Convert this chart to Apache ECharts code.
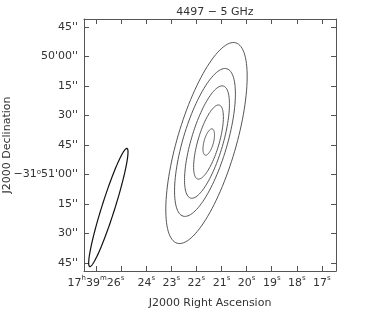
<!DOCTYPE html>
<html>
<head>
<meta charset="utf-8">
<script src="https://cdn.jsdelivr.net/npm/echarts@6/dist/echarts.min.js"></script>
<style>
html,body{margin:0;padding:0;background:#fff;}
#chart{width:382px;height:315px;}
</style>
</head>
<body>
<div id="chart"></div>
<script>
// RA in seconds of 17h39m, Dec as arcsec offset from -31°51'00''
const raTicks = [17, 18, 19, 20, 21, 22, 23, 24, 25, 26];
const raLabelValues = [17, 18, 19, 20, 21, 22, 23, 24, 26];
const decTicks = [-45, -30, -15, 0, 15, 30, 45, 60, 75];
const decTickLabels = ["45''", "30''", "15''", "\u221231{s|o}51'00''", "45''", "30''", "15''", "50'00''", "45''"];

// Source contours (ellipses): centre RA (s), centre Dec offset ("), semi-major ("), semi-minor ("), PA (deg)
const contourRA = [21.60, 21.66, 21.58, 21.52, 21.51];
const contourDec = [16.0, 16.3, 16.5, 16.5, 16.5];
const contourMajor = [53.1, 39.1, 29.7, 19.6, 6.9];
const contourMinor = [14.9, 11.2, 8.1, 5.4, 2.4];
const contourPA = [-16.3, -16.5, -16.3, -16.3, -15.0];

// Beam
const beamRA = [25.51];
const beamDec = [-16.8];
const beamMajor = [31.5];
const beamMinor = [3.3];
const beamPA = [-17.5];

const DEC0 = -31.85;
const arcsecPerSec = 15 * Math.cos(DEC0 * Math.PI / 180);

function ellipseItem(params, api) {
  const c = api.coord([api.value(0), api.value(1)]);
  const sz = api.size([1, 1]);
  const pxPerArcX = Math.abs(sz[0]) / arcsecPerSec;
  const pxPerArcY = Math.abs(sz[1]);
  const a = api.value(2), b = api.value(3), pa = api.value(4) * Math.PI / 180;
  const pts = [];
  const N = 120;
  for (let i = 0; i < N; i++) {
    const t = 2 * Math.PI * i / N;
    const north = a * Math.cos(t) * Math.cos(pa) - b * Math.sin(t) * Math.sin(pa);
    const east = a * Math.cos(t) * Math.sin(pa) + b * Math.sin(t) * Math.cos(pa);
    pts.push([c[0] - east * pxPerArcX, c[1] - north * pxPerArcY]);
  }
  return {
    type: 'polygon',
    shape: { points: pts },
    style: { fill: 'none', stroke: params.seriesIndex === 0 ? '#555' : '#111', lineWidth: params.seriesIndex === 0 ? 1 : 1.2 }
  };
}

const contourData = contourRA.map((r, i) => [r, contourDec[i], contourMajor[i], contourMinor[i], contourPA[i]]);
const beamData = beamRA.map((r, i) => [r, beamDec[i], beamMajor[i], beamMinor[i], beamPA[i]]);

const FONT = 'DejaVu Sans';
const TXT = '#333';
const LINE = '#555';
const xMin = 16.44, xMax = 26.48, yMin = -49.1, yMax = 79.1;

const sup = { fontSize: 7, lineHeight: 9, verticalAlign: 'top', fontFamily: FONT, color: TXT };
const nrm = { fontSize: 11, lineHeight: 14, verticalAlign: 'bottom', fontFamily: FONT, color: TXT };

function raFmt(v) {
  const n = Math.round(v);
  if (n === 26) return '{n|17}{s|h}{n|39}{s|m}{n|26}{s|s}';
  return '{n|' + n + '}{s|s}';
}
function decFmt(v) {
  const i = decTicks.indexOf(Math.round(v));
  return i >= 0 ? decTickLabels[i] : '';
}

const axisLineStyle = { show: true, onZero: false, lineStyle: { color: LINE, width: 1 } };

const chart = echarts.init(document.getElementById('chart'), null, { renderer: 'canvas' });
chart.setOption({
  animation: false,
  backgroundColor: '#fff',
  title: {
    text: '4497 \u2212 5 GHz',
    left: 210, top: 2, textAlign: 'center',
    textStyle: { fontFamily: FONT, fontSize: 11, fontWeight: 'normal', color: TXT }
  },
  grid: { left: 84, right: 46, top: 19, bottom: 44, outerBoundsMode: 'none' },
  xAxis: [
    {
      type: 'value', min: xMin, max: xMax, inverse: true, position: 'bottom',
      name: 'J2000 Right Ascension', nameLocation: 'middle', nameGap: 27,
      nameMoveOverlap: false,
      nameTextStyle: { fontFamily: FONT, fontSize: 11, color: TXT },
      axisLine: axisLineStyle,
      axisTick: { show: true, inside: true, length: 5, customValues: raTicks, lineStyle: { color: LINE } },
      axisLabel: { customValues: raLabelValues, margin: 4, formatter: raFmt, rich: { n: nrm, s: sup } },
      splitLine: { show: false }
    },
    {
      type: 'value', min: xMin, max: xMax, inverse: true, position: 'top',
      axisLine: axisLineStyle,
      axisTick: { show: true, inside: true, length: 5, customValues: raTicks, lineStyle: { color: LINE } },
      axisLabel: { show: false },
      splitLine: { show: false }
    }
  ],
  yAxis: [
    {
      type: 'value', min: yMin, max: yMax, position: 'left',
      name: 'J2000 Declination', nameLocation: 'middle', nameGap: 71, nameRotate: 90,
      nameMoveOverlap: false,
      nameTextStyle: { fontFamily: FONT, fontSize: 11, color: TXT },
      axisLine: axisLineStyle,
      axisTick: { show: true, inside: true, length: 5, customValues: decTicks, lineStyle: { color: LINE } },
      axisLabel: { customValues: decTicks, margin: 6, formatter: decFmt, fontFamily: FONT, fontSize: 11, color: TXT, rich: { s: sup } },
      splitLine: { show: false }
    },
    {
      type: 'value', min: yMin, max: yMax, position: 'right',
      axisLine: axisLineStyle,
      axisTick: { show: true, inside: true, length: 5, customValues: decTicks, lineStyle: { color: LINE } },
      axisLabel: { show: false },
      splitLine: { show: false }
    }
  ],
  series: [
    { type: 'custom', name: 'source', xAxisIndex: 0, yAxisIndex: 0, renderItem: ellipseItem, data: contourData, clip: true, silent: true },
    { type: 'custom', name: 'beam', xAxisIndex: 0, yAxisIndex: 0, renderItem: ellipseItem, data: beamData, clip: true, silent: true }
  ]
});
</script>
</body>
</html>
